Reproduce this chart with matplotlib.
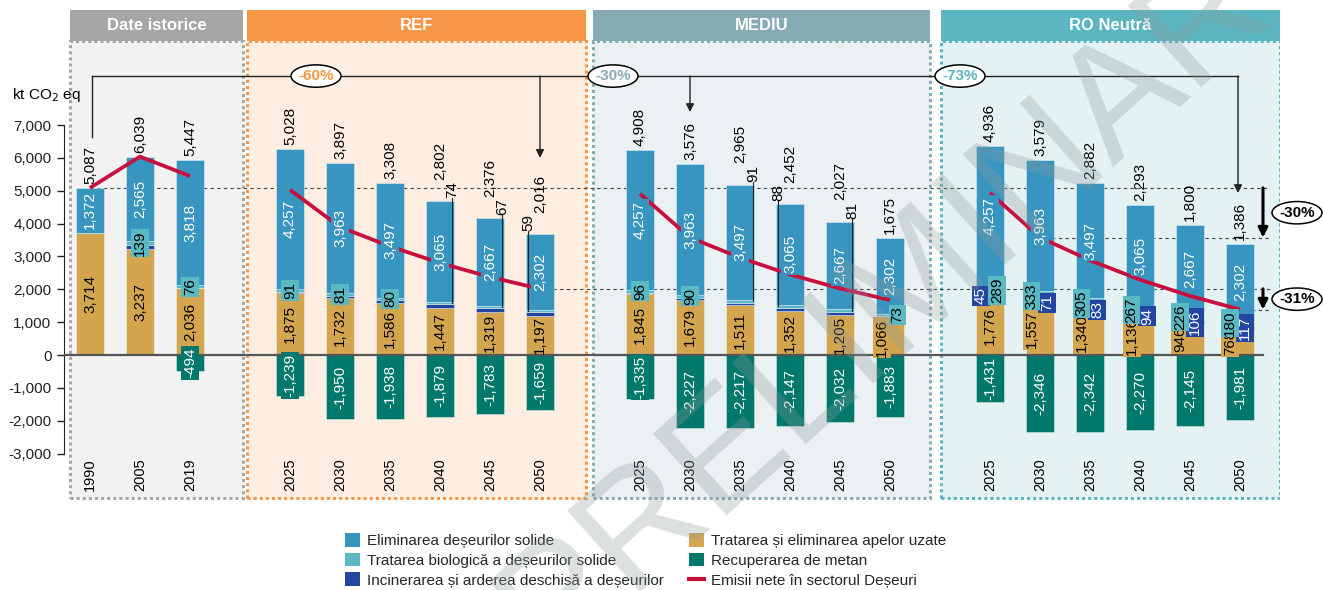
import numpy as np
import matplotlib.pyplot as plt
from matplotlib.patches import Rectangle, Ellipse, Patch
from matplotlib.lines import Line2D

plt.rcParams['font.family'] = ['Liberation Sans', 'DejaVu Sans']

# ani / categorii
hist_years = ['1990', '2005', '2019']
scen_years = ['2025', '2030', '2035', '2040', '2045', '2050']

# Date istorice (kt CO2 eq)
hist_solid = [1372, 2565, 3818]
hist_bio = [0, 139, 76]
hist_inc = [0, 98, 11]
hist_ww = [3714, 3237, 2036]
hist_meth = [0, 0, -494]
hist_net = [5087, 6039, 5447]

# Scenariul REF
ref_solid = [4257, 3963, 3497, 3065, 2667, 2302]
ref_bio = [91, 81, 80, 74, 67, 59]
ref_inc = [45, 71, 83, 94, 106, 117]
ref_ww = [1875, 1732, 1586, 1447, 1319, 1197]
ref_meth = [-1239, -1950, -1938, -1879, -1783, -1659]
ref_net = [5028, 3897, 3308, 2802, 2376, 2016]

# Scenariul MEDIU
med_solid = [4257, 3963, 3497, 3065, 2667, 2302]
med_bio = [96, 90, 91, 88, 81, 73]
med_inc = [45, 71, 83, 94, 106, 117]
med_ww = [1845, 1679, 1511, 1352, 1205, 1066]
med_meth = [-1335, -2227, -2217, -2147, -2032, -1883]
med_net = [4908, 3576, 2965, 2452, 2027, 1675]

# Scenariul RO Neutra
ro_solid = [4257, 3963, 3497, 3065, 2667, 2302]
ro_bio = [289, 333, 305, 267, 226, 180]
ro_inc = [45, 71, 83, 94, 106, 117]
ro_ww = [1776, 1557, 1340, 1136, 946, 768]
ro_meth = [-1431, -2346, -2342, -2270, -2145, -1981]
ro_net = [4936, 3579, 2882, 2293, 1800, 1386]

C_SOLID = '#3795bf'
C_BIO = '#5bb9c4'
C_INC = '#2446a3'
C_WW = '#d3a54f'
C_METH = '#00786c'
C_NET = '#c8103f'

groups = [
    dict(title='Date istorice', hdr='#a6a6a6', body='#f2f2f2', span=(-0.40, 3.06),
         x=[0, 1, 2], years=hist_years, solid=hist_solid, bio=hist_bio, inc=hist_inc,
         ww=hist_ww, meth=hist_meth, net=hist_net,
         ww_dx=[0, 0, 0], bio_lbl=[None, ('in', 0), ('in', 0)], inc_dx=[None] * 3),
    dict(title='REF', hdr='#f79646', body='#fdeee1', span=(3.14, 9.92),
         x=[4, 5, 6, 7, 8, 9], years=scen_years, solid=ref_solid, bio=ref_bio, inc=ref_inc,
         ww=ref_ww, meth=ref_meth, net=ref_net,
         ww_dx=[0] * 6,
         bio_lbl=[('in', 0), ('in', 0), ('in', 0), ('lead', 0.24), ('lead', 0.24), ('lead', -0.24)],
         inc_dx=[None] * 6),
    dict(title='MEDIU', hdr='#86abb5', body='#ebf0f2', span=(10.06, 16.80),
         x=[11, 12, 13, 14, 15, 16], years=scen_years, solid=med_solid, bio=med_bio, inc=med_inc,
         ww=med_ww, meth=med_meth, net=med_net,
         ww_dx=[0, 0, 0, 0, 0, -0.16],
         bio_lbl=[('in', 0), ('in', 0), ('lead', 0.26), ('lead', -0.24), ('lead', 0.24), ('in', 0.15)],
         inc_dx=[None] * 6),
    dict(title='RO Neutră', hdr='#5bb6c1', body='#e4f2f4', span=(17.02, 23.80),
         x=[18, 19, 20, 21, 22, 23], years=scen_years, solid=ro_solid, bio=ro_bio, inc=ro_inc,
         ww=ro_ww, meth=ro_meth, net=ro_net,
         ww_dx=[0, -0.16, -0.16, -0.16, -0.2, -0.2],
         bio_lbl=[('in', 0.14), ('in', -0.17), ('in', -0.17), ('in', -0.17), ('in', -0.2), ('in', -0.2)],
         inc_dx=[-0.18, 0.14, 0.14, 0.14, 0.1, 0.1]),
]

W = 0.56
Y_TOP, Y_BOT = 10500, -4410
Y_HDR = 9555
Y_BODY = -4350


def fmt(v):
    return f'{v:,.0f}'


def vlabel(ax, x, y, s, color='black', fc=None, va='center', size=11, z=6):
    kw = {}
    if fc is not None:
        kw['bbox'] = dict(boxstyle='square,pad=0.1', fc=fc, ec='none')
    ax.text(x, y, s, rotation=90, ha='center', va=va, color=color, fontsize=size,
            zorder=z, **kw)


fig = plt.figure(figsize=(13.24, 5.90), dpi=100)
ax = fig.add_axes([64 / 1324, 90 / 590, 1216 / 1324, 490 / 590])
ax.set_xlim(-0.52, 23.8)
ax.set_ylim(Y_BOT, Y_TOP)

# panouri de fundal cu antet
for g in groups:
    x0, x1 = g['span']
    ax.add_patch(Rectangle((x0, Y_BODY), x1 - x0, Y_HDR - Y_BODY, fc=g['body'],
                           ec=g['hdr'], lw=2.2, ls=(0, (1, 1)), zorder=0))
    ax.add_patch(Rectangle((x0, Y_HDR), x1 - x0, Y_TOP - Y_HDR, fc=g['hdr'], ec='none',
                           zorder=0.5, clip_on=False))
    ax.text((x0 + x1) / 2, (Y_HDR + Y_TOP) / 2, g['title'], ha='center', va='center',
            color='white', fontsize=12, fontweight='bold', zorder=1)

# linii de referinta punctate
ref_lines = [(hist_net[0], 0, 23.6), (med_net[1], 19.1, 23.6),
             (ref_net[-1], 9.26, 23.6), (ro_net[-1], 23.1, 23.6)]
for yv, xa, xb in ref_lines:
    ax.plot([xa, xb], [yv, yv], color='#404040', lw=0.8, ls=(0, (3, 3)), zorder=1.5)

for g in groups:
    x = np.array(g['x'], dtype=float)
    ww = np.array(g['ww']); inc = np.array(g['inc']); bio = np.array(g['bio'])
    solid = np.array(g['solid']); meth = np.array(g['meth'])
    bk = dict(width=W, edgecolor=(1, 1, 1, 0.45), linewidth=0.6, zorder=2)
    ax.bar(x, ww, color=C_WW, **bk)
    ax.bar(x, inc, bottom=ww, color=C_INC, **bk)
    ax.bar(x, bio, bottom=ww + inc, color=C_BIO, **bk)
    ax.bar(x, solid, bottom=ww + inc + bio, color=C_SOLID, **bk)
    ax.bar(x, meth, color=C_METH, **bk)
    ax.plot(x, g['net'], color=C_NET, lw=2.7, zorder=4, solid_capstyle='butt')

    top = ww + inc + bio + solid
    for i, xi in enumerate(x):
        vlabel(ax, xi, ww[i] + inc[i] + bio[i] + solid[i] / 2, fmt(solid[i]), 'white', C_SOLID)
        vlabel(ax, xi + g['ww_dx'][i], ww[i] / 2, fmt(ww[i]), 'black',
               C_WW if g['ww_dx'][i] else None)
        if meth[i]:
            vlabel(ax, xi, meth[i] / 2, fmt(meth[i]), 'white', C_METH)
        if g['inc_dx'][i] is not None:
            vlabel(ax, xi + g['inc_dx'][i], ww[i] + inc[i] / 2, fmt(inc[i]), 'white', C_INC, z=7)
        net_y = top[i] + 120
        mode = g['bio_lbl'][i]
        if mode is not None:
            kind, dx = mode
            if kind == 'in':
                vlabel(ax, xi + dx, ww[i] + inc[i] + bio[i] / 2, fmt(bio[i]), 'black', C_BIO, z=7)
            else:
                ly = top[i] + 350
                ax.plot([xi + dx, xi + dx], [ly - 260, ww[i] + inc[i] + bio[i] / 2],
                        color='#222222', lw=0.8, zorder=3)
                vlabel(ax, xi + dx, ly, fmt(bio[i]))
                net_y = ly + 300
        vlabel(ax, xi, net_y, fmt(g['net'][i]), va='bottom')
        vlabel(ax, xi, -3150, g['years'][i], va='top', size=10.5)

# linia zero
ax.plot([-0.52, 23.46], [0, 0], color='#555555', lw=1.6, zorder=3)

# paranteze cu procente fata de 1990
base = hist_net[0]
Y_BR = 8490
ax.plot([0.04, 0.04], [6635, Y_BR], color='#222222', lw=1, zorder=3)
ax.plot([0.04, 22.96], [Y_BR, Y_BR], color='#222222', lw=1, zorder=3)
drops = [(9, 6000), (12, 7395), (22.96, 4930)]
for xd, yd in drops:
    ax.annotate('', xy=(xd, yd), xytext=(xd, Y_BR),
                arrowprops=dict(arrowstyle='-|>', color='#222222', lw=1,
                                mutation_scale=12, shrinkA=0, shrinkB=0), zorder=3)

pct_marks = [(4.52, ref_net[-1], '#f79646'), (10.46, med_net[1], '#86abb5'),
             (17.4, ro_net[-1], '#5bb6c1')]
for xe, val, col in pct_marks:
    ax.add_patch(Ellipse((xe, Y_BR), 1.0, 680, fc='white', ec='black', lw=1.1, zorder=5))
    ax.text(xe, Y_BR, f'{round((val / base - 1) * 100):d}%', ha='center', va='center',
            color=col, fontsize=11, fontweight='bold', zorder=6)

# sageti de reducere in 2050 (RO Neutra)
XA = 23.46
for y_from, y_to in [(hist_net[0], med_net[1]), (ref_net[-1], ro_net[-1])]:
    ax.annotate('', xy=(XA, y_to), xytext=(XA, y_from),
                arrowprops=dict(arrowstyle='-|>', color='black', lw=2.2,
                                mutation_scale=14, shrinkA=0, shrinkB=0), zorder=5)
    ax.add_patch(Ellipse((24.14, (y_from + y_to) / 2), 1.0, 680, fc='white', ec='black',
                         lw=1.1, zorder=5, clip_on=False))
    ax.text(24.14, (y_from + y_to) / 2, f'{round((y_to / y_from - 1) * 100):d}%',
            ha='center', va='center', fontsize=11, fontweight='bold',
            zorder=6, clip_on=False)

# axa y
ax.set_xticks([])
ax.set_yticks(range(-3000, 7001, 1000))
ax.set_yticklabels([fmt(v) for v in range(-3000, 7001, 1000)])
ax.tick_params(axis='y', direction='out', length=5, width=1, colors='#222222',
               labelsize=11, pad=4)
for s in ['top', 'right', 'bottom']:
    ax.spines[s].set_visible(False)
ax.spines['left'].set_bounds(-3000, 7000)
ax.spines['left'].set_color('#222222')
ax.patch.set_visible(False)
fig.text(12 / 1324, 1 - 95 / 590, 'kt CO$_2$ eq', fontsize=11, va='center', ha='left')

# filigran
fig.text(885 / 1324, 1 - 305 / 590, 'PRELIMINAR', fontsize=115, rotation=42,
         color='#8f999c', alpha=0.3, ha='center', va='center', rotation_mode='anchor',
         zorder=20)

handles = [Patch(fc=C_SOLID), Patch(fc=C_BIO), Patch(fc=C_INC),
           Patch(fc=C_WW), Patch(fc=C_METH), Line2D([], [], color=C_NET, lw=3)]
labels = ['Eliminarea deșeurilor solide', 'Tratarea biologică a deșeurilor solide',
          'Incinerarea și arderea deschisă a deșeurilor',
          'Tratarea și eliminarea apelor uzate', 'Recuperarea de metan',
          'Emisii nete în sectorul Deșeuri']
fig.legend(handles, labels, ncol=2, loc='upper left', bbox_to_anchor=(336 / 1324, 1 - 524 / 590),
           frameon=False, fontsize=11, handlelength=1.0, handleheight=1.0,
           labelspacing=0.3, columnspacing=1.6, handletextpad=0.45, borderpad=0.1,
           labelcolor='#262626')

fig.savefig('out.png', dpi=100)
